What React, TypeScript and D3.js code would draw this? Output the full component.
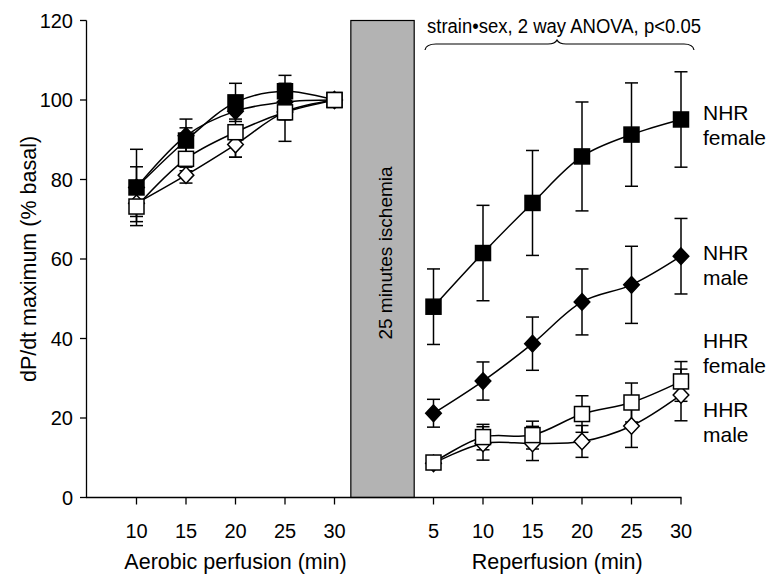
import { useEffect } from "react";
import * as d3 from "d3";

// time points (min)
const aerobicTimes = [10, 15, 20, 25, 30];
const reperfusionTimes = [5, 10, 15, 20, 25, 30];
const yTicks = [0, 20, 40, 60, 80, 100, 120];

// aerobic perfusion, % basal
const nhrFemaleAer = [78, 89.8, 99.4, 102.2, 100];
const nhrFemaleAerErr = [9.6, 5.4, 4.8, 4, 0];
const nhrMaleAer = [78, 91, 97.2, 99.5, 100];
const nhrMaleAerErr = [5.2, 2, 2, 2, 0];
const hhrFemaleAer = [73.2, 85.2, 91.9, 96.9, 100];
const hhrFemaleAerErr = [3.8, 3, 6.3, 7.3, 0];
const hhrMaleAer = [74, 81.1, 88.8, 97, 100];
const hhrMaleAerErr = [3.3, 2, 3.2, 2, 0];

// reperfusion, % basal
const nhrFemaleRep = [48, 61.5, 74.1, 85.8, 91.3, 95.1];
const nhrFemaleRepErr = [9.5, 12, 13.2, 13.7, 13, 12];
const nhrMaleRep = [21.2, 29.3, 38.7, 49.2, 53.5, 60.7];
const nhrMaleRepErr = [3.5, 4.8, 6.7, 8.3, 9.7, 9.5];
const hhrFemaleRep = [8.8, 15.2, 15.7, 21, 23.9, 29.2];
const hhrFemaleRepErr = [1, 3.2, 3.5, 4.6, 4.9, 5];
const hhrMaleRep = [8.6, 13.6, 13.6, 14.1, 18, 25.8];
const hhrMaleRepErr = [1, 4.2, 4.3, 4, 5.4, 6.5];

const series = [
  { name: ["NHR", "male"], shape: "diamond", fill: "#000", aer: nhrMaleAer, aerErr: nhrMaleAerErr, rep: nhrMaleRep, repErr: nhrMaleRepErr },
  { name: ["NHR", "female"], shape: "square", fill: "#000", aer: nhrFemaleAer, aerErr: nhrFemaleAerErr, rep: nhrFemaleRep, repErr: nhrFemaleRepErr },
  { name: ["HHR", "male"], shape: "diamond", fill: "#fff", aer: hhrMaleAer, aerErr: hhrMaleAerErr, rep: hhrMaleRep, repErr: hhrMaleRepErr },
  { name: ["HHR", "female"], shape: "square", fill: "#fff", aer: hhrFemaleAer, aerErr: hhrFemaleAerErr, rep: hhrFemaleRep, repErr: hhrFemaleRepErr },
];

const labelBaselines = { "NHR female": 120, "NHR male": 260, "HHR female": 348, "HHR male": 417 };

const font = "'Liberation Sans', Arial, Helvetica, sans-serif";

export default function App() {
  useEffect(() => {
    document.body.style.margin = "0";
  }, []);

  const width = 770,
    height = 574;
  // categorical slots along x: 1..5 aerobic, 6 ischemia, 7..12 reperfusion
  const x = d3.scaleLinear().domain([0, 12]).range([87, 681]);
  const y = d3.scaleLinear().domain([0, 120]).range([497.5, 20.5]);
  const xa = (t: number) => x(t / 5 - 1);
  const xr = (t: number) => x(6 + t / 5);

  const line = d3
    .line<[number, number]>()
    .x((d) => d[0])
    .y((d) => d[1])
    .curve(d3.curveCatmullRom.alpha(0.5));

  const pts = (s: any) => {
    const a = aerobicTimes.map((t, i) => ({ cx: xa(t), v: s.aer[i], e: s.aerErr[i] }));
    const r = reperfusionTimes.map((t, i) => ({ cx: xr(t), v: s.rep[i], e: s.repErr[i] }));
    return { a, r };
  };

  const marker = (shape: string, cx: number, cy: number, fill: string, key: string) => {
    if (shape === "square")
      return <rect key={key} x={cx - 7.5} y={cy - 7.5} width={15} height={15} fill={fill} stroke="#000" strokeWidth={1.5} />;
    const h = 8.3;
    return (
      <path
        key={key}
        d={`M${cx},${cy - h}L${cx + h - 0.5},${cy}L${cx},${cy + h}L${cx - h + 0.5},${cy}Z`}
        fill={fill}
        stroke="#000"
        strokeWidth={1.5}
      />
    );
  };

  const cap = 6.5;
  const barX0 = x(5.33),
    barX1 = x(6.61);

  return (
    <svg width={width} height={height} style={{ display: "block", background: "#fff" }} fontFamily={font}>
      {/* ischemia block */}
      <rect x={barX0} y={y(120)} width={barX1 - barX0} height={y(0) - y(120)} fill="#b3b3b3" stroke="#000" strokeWidth={1.2} />
      <text transform={`translate(392,253) rotate(-90)`} textAnchor="middle" fontSize={19}>
        25 minutes ischemia
      </text>

      {/* axes */}
      <line x1={86.5} x2={86.5} y1={y(120)} y2={y(0)} stroke="#000" strokeWidth={1.3} />
      <line x1={86} x2={x(12) + 0.5} y1={y(0)} y2={y(0)} stroke="#000" strokeWidth={1.3} />
      {yTicks.map((t) => (
        <g key={"yt" + t}>
          <line x1={80} x2={86.5} y1={y(t)} y2={y(t)} stroke="#000" strokeWidth={1.3} />
          <text x={73} y={y(t)} dy="0.36em" textAnchor="end" fontSize={20}>
            {t}
          </text>
        </g>
      ))}
      {aerobicTimes.map((t) => (
        <g key={"xa" + t}>
          <line x1={xa(t)} x2={xa(t)} y1={y(0)} y2={y(0) + 7} stroke="#000" strokeWidth={1.3} />
          <text x={xa(t)} y={538} textAnchor="middle" fontSize={20}>
            {t}
          </text>
        </g>
      ))}
      {reperfusionTimes.map((t) => (
        <g key={"xr" + t}>
          <line x1={xr(t)} x2={xr(t)} y1={y(0)} y2={y(0) + 7} stroke="#000" strokeWidth={1.3} />
          <text x={xr(t)} y={538} textAnchor="middle" fontSize={20}>
            {t}
          </text>
        </g>
      ))}
      <text x={(xa(10) + xa(30)) / 2} y={569} textAnchor="middle" fontSize={21.5}>
        Aerobic perfusion (min)
      </text>
      <text x={(xr(5) + xr(30)) / 2} y={569} textAnchor="middle" fontSize={21.5}>
        Reperfusion (min)
      </text>
      <text transform={`translate(36,${(y(0) + y(120)) / 2}) rotate(-90)`} textAnchor="middle" fontSize={21.5}>
        dP/dt maximum (% basal)
      </text>

      {/* annotation with brace */}
      <text x={427} y={33} fontSize={20} textLength={274} lengthAdjust="spacingAndGlyphs">
        strain•sex, 2 way ANOVA, p&lt;0.05
      </text>
      <path
        d="M425,50 Q426,44 436,44 L548,44 Q555,44 557,40 Q559,44 566,44 L684,44 Q693,44 694,50"
        fill="none"
        stroke="#000"
        strokeWidth={1.2}
      />

      {/* error bars */}
      {series.map((s, si) => {
        const { a, r } = pts(s);
        return (
          <g key={"err" + si} stroke="#000" strokeWidth={1.5}>
            {[...a, ...r]
              .filter((p) => p.e > 0)
              .map((p, i) => (
                <g key={i}>
                  <line x1={p.cx} x2={p.cx} y1={y(p.v + p.e)} y2={y(p.v - p.e)} />
                  <line x1={p.cx - cap} x2={p.cx + cap} y1={y(p.v + p.e)} y2={y(p.v + p.e)} />
                  <line x1={p.cx - cap} x2={p.cx + cap} y1={y(p.v - p.e)} y2={y(p.v - p.e)} />
                </g>
              ))}
          </g>
        );
      })}

      {/* lines and markers */}
      {series.map((s, si) => {
        const { a, r } = pts(s);
        return (
          <g key={"s" + si}>
            <path d={line(a.map((p) => [p.cx, y(p.v)])) || ""} fill="none" stroke="#000" strokeWidth={1.5} />
            <path d={line(r.map((p) => [p.cx, y(p.v)])) || ""} fill="none" stroke="#000" strokeWidth={1.5} />
            {[...a, ...r].map((p, i) => marker(s.shape, p.cx, y(p.v), s.fill, "m" + i))}
          </g>
        );
      })}

      {/* series labels */}
      {series.map((s) => {
        const b = (labelBaselines as any)[s.name.join(" ")];
        return (
          <text key={s.name.join(" ")} x={703} y={b} fontSize={21}>
            <tspan x={703}>{s.name[0]}</tspan>
            <tspan x={703} dy={25}>
              {s.name[1]}
            </tspan>
          </text>
        );
      })}
    </svg>
  );
}
